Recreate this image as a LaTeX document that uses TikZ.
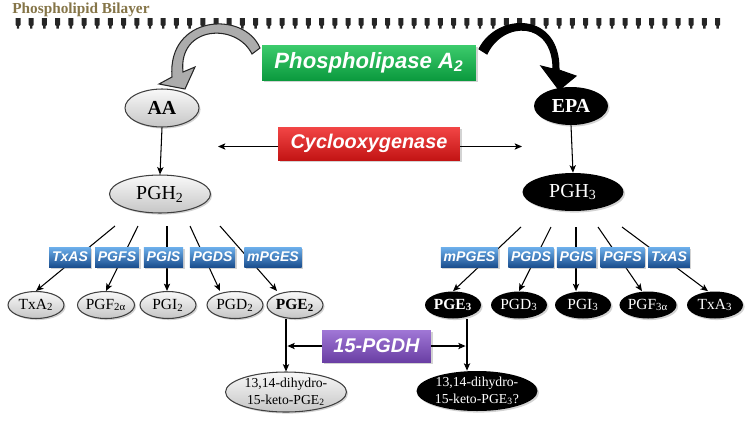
\documentclass[tikz,border=0pt]{standalone}
\usepackage{fontspec}
\setmainfont{Liberation Serif}
\newfontfamily\labelsans{Liberation Sans}
\usetikzlibrary{arrows.meta,shapes.geometric,shadows}

\definecolor{bilayer}{HTML}{857548}
\definecolor{greentop}{HTML}{3CCB6C}
\definecolor{greenbot}{HTML}{0B9A3E}
\definecolor{redtop}{HTML}{F24646}
\definecolor{redbot}{HTML}{C31414}
\definecolor{purpletop}{HTML}{A077D6}
\definecolor{purplebot}{HTML}{6A3FA4}
\definecolor{bluetop}{HTML}{6DB0EC}
\definecolor{bluebot}{HTML}{1B4E8E}

\tikzset{
  softshadow/.style={drop shadow={opacity=0.35,shadow xshift=0.9pt,shadow yshift=-0.9pt}},
  lipid/.style={ellipse, draw=black!75, line width=0.6pt, top color=gray!5, bottom color=gray!45, inner sep=0pt, softshadow},
  omega/.style={ellipse, fill=black, text=white, inner sep=0pt, softshadow},
  precursor/.style={minimum width=1.48cm, minimum height=0.76cm, font=\bfseries\fontsize{11.3}{13}\selectfont},
  endoperox/.style={minimum width=2.02cm, minimum height=0.76cm, font=\fontsize{11.3}{13}\selectfont},
  prod/.style={minimum width=1.12cm, minimum height=0.54cm, font=\fontsize{8.8}{10}\selectfont},
  keto/.style={minimum width=2.42cm, minimum height=0.8cm, align=center, font=\fontsize{7.8}{9.4}\selectfont},
  enzyme/.style={rectangle, inner sep=0pt, text=white, softshadow,
    font=\labelsans\bfseries\itshape\fontsize{11.3}{13}\selectfont},
  synth/.style={rectangle, inner xsep=1.6pt, inner ysep=0pt, minimum height=0.4cm, text=white,
    top color=bluetop, bottom color=bluebot, softshadow,
    font=\labelsans\bfseries\itshape\fontsize{8}{9}\selectfont},
  flow/.style={line width=0.6pt, -{Stealth[length=4.2pt,width=3.6pt,inset=1pt]}},
}

\begin{document}
\begin{tikzpicture}[x=0.02cm,y=-0.02cm]
\useasboundingbox (0,0) rectangle (750,420);

% membrane
\node[anchor=west, inner sep=0pt, text=bilayer, font=\bfseries\fontsize{8.7}{10}\selectfont] (bil) at (12,10) {Phospholipid Bilayer};
\foreach \i in {0,...,53} {
  \pgfmathsetmacro\tx{18+13.2*\i}
  \fill[black!85, shift={(\tx,0)}] (-2.5,18) -- (2.5,18) -- (2.5,25) -- (1.2,26) -- (1.2,28.5) -- (-1.2,28.5) -- (-1.2,26) -- (-2.5,25) -- cycle;
}

% released fatty acids
\filldraw[fill=gray!65, draw=black!85, line width=0.6pt]
  (260,48) .. controls (244,10) and (167,15) .. (172,77) -- (159,84) -- (185,89) -- (195,67)
  -- (183,72) .. controls (178,26) and (236,22) .. (252,54) -- cycle;
\filldraw[fill=black, draw=black, line width=0.6pt]
  (479,49) .. controls (497,13) and (560,11) .. (559,70) -- (576,76) -- (559,90) -- (541,66)
  -- (553,69) .. controls (553,20) and (503,20) .. (487,54) -- cycle;

\node[enzyme, top color=greentop, bottom color=greenbot, minimum width=4.28cm, minimum height=0.7cm,
  font=\labelsans\bfseries\itshape\fontsize{12.6}{14}\selectfont] (pla) at (369,62.5) {Phospholipase A\textsubscript{2}};
\node[enzyme, top color=redtop, bottom color=redbot, minimum width=3.64cm, minimum height=0.66cm] (cox) at (369,143.5) {Cyclooxygenase};
\node[enzyme, top color=purpletop, bottom color=purplebot, minimum width=2.18cm, minimum height=0.64cm] (pgdh) at (376.5,346) {15-PGDH};

\node[lipid, precursor] (aa) at (162,108) {AA};
\node[omega, precursor] (epa) at (571,106) {EPA};
\node[lipid, endoperox] (pgh2) at (160,194) {PGH\textsubscript{2}};
\node[omega, endoperox] (pgh3) at (573,192) {PGH\textsubscript{3}};

% series 2 prostanoids
\node[lipid, prod] (txa2) at (36,305) {TxA\textsubscript{2}};
\node[lipid, prod] (pgf2) at (106,305) {PGF\textsubscript{2α}};
\node[lipid, prod] (pgi2) at (168,305) {PGI\textsubscript{2}};
\node[lipid, prod] (pgd2) at (235,305) {PGD\textsubscript{2}};
\node[lipid, prod, font=\bfseries\fontsize{8.8}{10}\selectfont] (pge2) at (295,305) {PGE\textsubscript{2}};
% series 3 prostanoids
\node[omega, prod, font=\bfseries\fontsize{8.8}{10}\selectfont] (pge3) at (453,305) {PGE\textsubscript{3}};
\node[omega, prod] (pgd3) at (519,305) {PGD\textsubscript{3}};
\node[omega, prod] (pgi3) at (583,305) {PGI\textsubscript{3}};
\node[omega, prod] (pgf3) at (648,305) {PGF\textsubscript{3α}};
\node[omega, prod] (txa3) at (715,305) {TxA\textsubscript{3}};

\node[lipid, keto] (k2) at (286,392) {13,14-dihydro-\\15-keto-PGE\textsubscript{2}};
\node[omega, keto] (k3) at (477,391) {13,14-dihydro-\\15-keto-PGE\textsubscript{3}?};

\coordinate (coxl) at (218,146.5);
\coordinate (coxr) at (522,146.5);
\coordinate (s1) at (115,226);
\coordinate (s2) at (138,226);
\coordinate (s3) at (167,226);
\coordinate (s4) at (190,226);
\coordinate (s5) at (220,226);
\coordinate (r1) at (521,227);
\coordinate (r2) at (551,227);
\coordinate (r3) at (576,227);
\coordinate (r4) at (598,227);
\coordinate (r5) at (622,227);
\coordinate (k3top) at ([xshift=-0.2cm]k3.north);

\draw[flow] (aa.south) to (pgh2.north);
\draw[flow] (epa.south) to (pgh3.north);
\draw[flow] (cox.west |- coxl) to (coxl);
\draw[flow] (cox.east |- coxr) to (coxr);
\draw[flow] (s1) to (txa2.north);
\draw[flow] (s2) to (pgf2.north);
\draw[flow] (s3) to (s3 |- pgi2.north);
\draw[flow] (s4) to ([xshift=-0.3cm]pgd2.north);
\draw[flow] (s5) to ([xshift=-0.36cm]pge2.north);
\draw[flow] (r1) to (pge3.north);
\draw[flow] (r2) to (pgd3.north);
\draw[flow] (r3) to (r3 |- pgi3.north);
\draw[flow] (r4) to ([xshift=-0.12cm]pgf3.north);
\draw[flow] (r5) to ([xshift=-0.14cm]txa3.north);
\draw[flow] (pge2.south -| k2.north) to (k2.north);
\draw[flow] (pge3.south -| k3top) to (k3top);
\draw[flow, shorten >=0.8pt] (pgdh.west) to (pgdh.west -| k2.north);
\draw[flow, shorten >=0.8pt] (pgdh.east) to (pgdh.east -| k3top);

\node[synth] (txas2) at (70,257) {TxAS};
\node[synth] (pgfs2) at (117,257) {PGFS};
\node[synth] (pgis2) at (163.5,257) {PGIS};
\node[synth] (pgds2) at (212.5,257) {PGDS};
\node[synth] (mpges2) at (273,257) {mPGES};
\node[synth] (mpges3) at (469.5,257) {mPGES};
\node[synth] (pgds3) at (531,257) {PGDS};
\node[synth] (pgis3) at (576.5,257) {PGIS};
\node[synth] (pgfs3) at (622.5,257) {PGFS};
\node[synth] (txas3) at (669,257) {TxAS};
\end{tikzpicture}
\end{document}
